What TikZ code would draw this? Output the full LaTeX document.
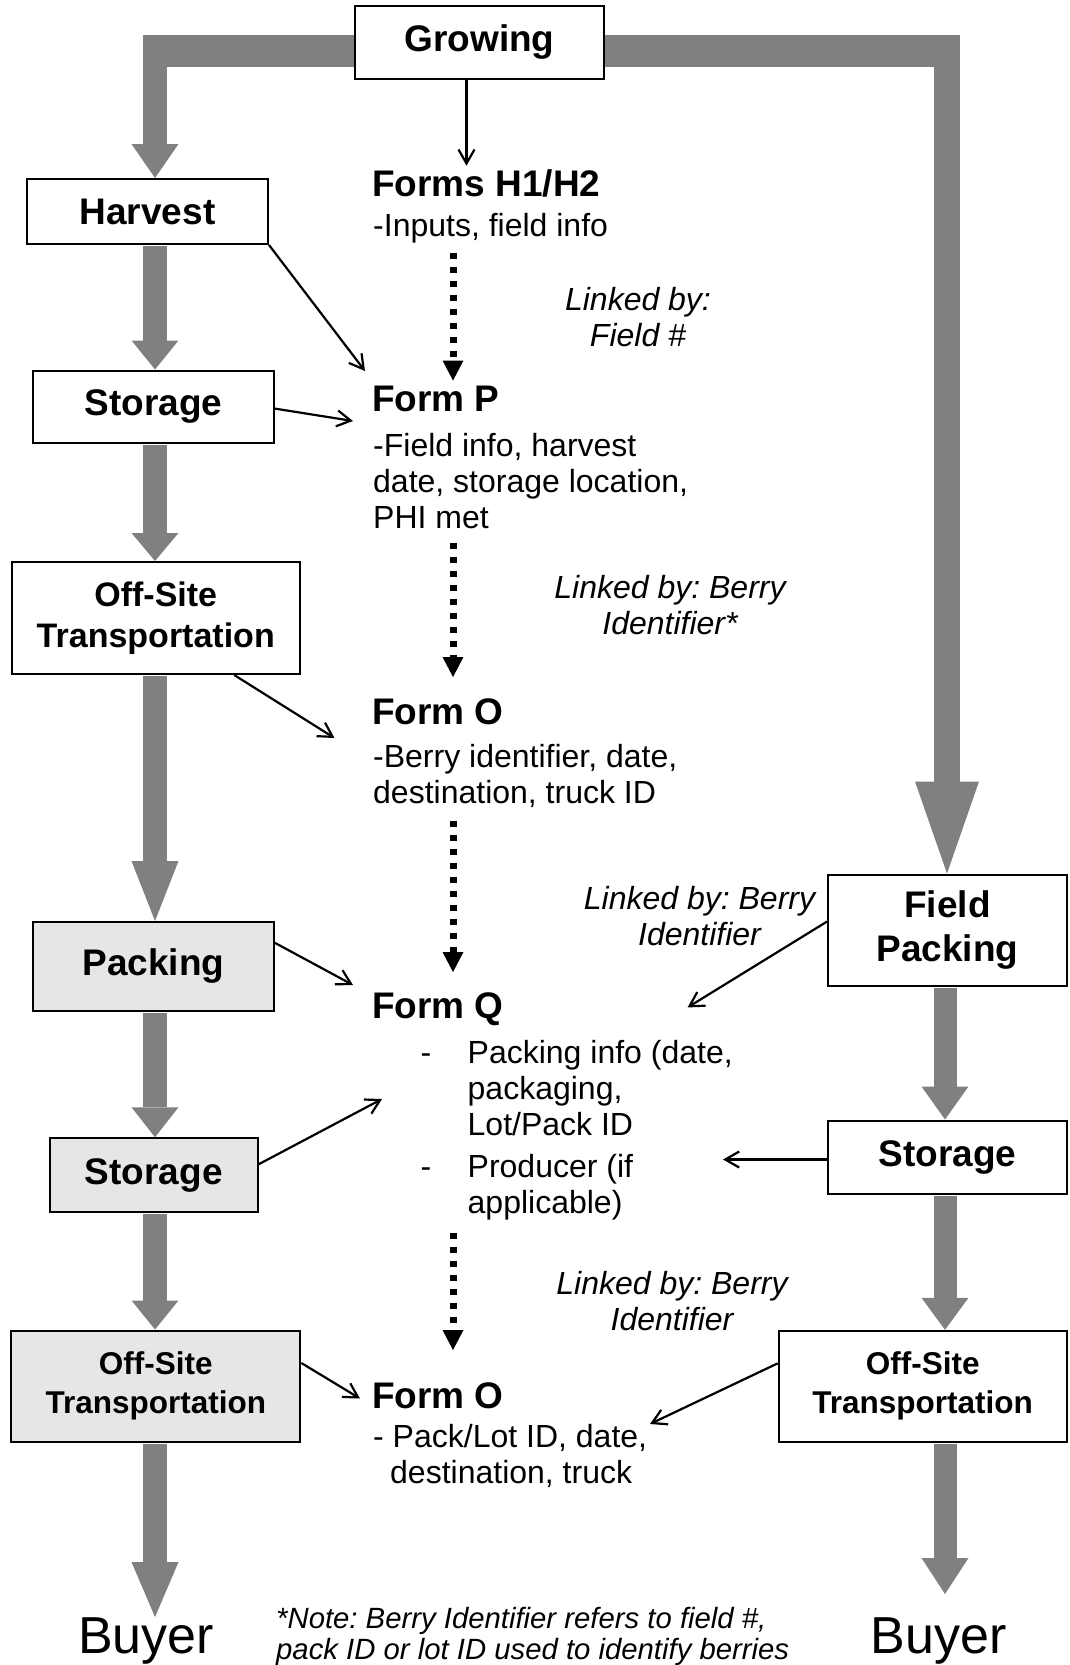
\documentclass[tikz,border=0pt]{standalone}
\usepackage{fontspec}
\setmainfont{Liberation Sans}
\usetikzlibrary{arrows.meta}

\definecolor{flowgray}{RGB}{128,128,128}
\definecolor{boxgray}{RGB}{230,230,230}

\tikzset{
  procbox/.style={draw=black, line width=2pt, fill=white, inner sep=0pt, align=center,
    font=\fontsize{37}{44}\selectfont\bfseries},
  shadedbox/.style={procbox, fill=boxgray},
  formhead/.style={anchor=base west, inner sep=0pt, font=\fontsize{37}{42}\selectfont\bfseries},
  formbody/.style={anchor=base west, inner sep=0pt, align=left, font=\fontsize{32}{36}\selectfont},
  linklabel/.style={anchor=base, inner sep=0pt, align=center, font=\fontsize{32}{36}\selectfont\itshape},
  flowbar/.style={draw=flowgray, line width=32pt},
  bigflow/.style={draw=flowgray, line width=24pt, shorten <=1pt,
    -{Triangle[length=#1, width=47pt, line width=0pt]}},
  bigflow/.default=30pt,
  thinarrow/.style={line width=2.2pt, -{Straight Barb[length=14pt, width=16pt]}},
  linkarrow/.style={line width=7pt, dash pattern=on 6pt off 8pt,
    -{Triangle[length=20pt, width=21pt, line width=0pt]}},
}

\begin{document}
\frenchspacing
\begin{tikzpicture}[x=1pt, y=-1pt]
  \useasboundingbox (0,0) rectangle (1069,1665);

  % process boxes
  \node[procbox, minimum width=249pt, minimum height=73pt] (grow) at (479.5,42.5) {Growing};
  \node[procbox, minimum width=241pt, minimum height=65pt] (harv) at (147.5,211.5) {Harvest};
  \node[procbox, minimum width=241pt, minimum height=72pt] (stor1) at (153.5,406.5) {Storage};
  \node[procbox, minimum width=288pt, minimum height=112pt, font=\fontsize{34}{41.5}\selectfont\bfseries] (off1) at (155.75,618) {Off-Site\\Transportation};
  \node[shadedbox, minimum width=241pt, minimum height=89pt] (pack) at (153.5,966.5) {Packing};
  \node[shadedbox, minimum width=208pt, minimum height=74pt] (stor2) at (153.75,1175.25) {Storage};
  \node[shadedbox, minimum width=289pt, minimum height=111pt, font=\fontsize{31.5}{39}\selectfont\bfseries] (off2) at (155.8,1386) {Off-Site\\Transportation};
  \node[procbox, minimum width=239pt, minimum height=111pt] (fpack) at (947.5,930) {Field\\Packing};
  \node[procbox, minimum width=239pt, minimum height=73pt] (stor3) at (947.5,1157) {Storage};
  \node[procbox, minimum width=288pt, minimum height=111pt, font=\fontsize{31.5}{39}\selectfont\bfseries] (off3) at (922.7,1386.3) {Off-Site\\Transportation};
  \node[anchor=base, inner sep=0pt, font=\fontsize{52}{60}\selectfont] (buyL) at (146,1653) {Buyer};
  \node[anchor=base, inner sep=0pt, font=\fontsize{52}{60}\selectfont] (buyR) at (938.5,1653) {Buyer};

  % record forms (multi-line texts sit on their last baseline)
  \node[formhead] (h12head) at (372,196) {Forms H1/H2};
  \node[formbody] (h12body) at (373,236) {-Inputs, field info};
  \node[formhead] (phead) at (372,411) {Form P};
  \node[formbody] (pbody) at (373,528) {-Field info, harvest\\date, storage location,\\PHI met};
  \node[formhead] (ohead) at (372,724) {Form O};
  \node[formbody] (obody) at (373,803) {-Berry identifier, date,\\destination, truck ID};
  \node[formhead] (qhead) at (372,1018.5) {Form Q};
  \node[formbody] (qbody) at (420.5,1213) {\makebox[47pt][l]{-}Packing info (date,\\
    \hspace*{47pt}packaging,\\
    \hspace*{47pt}Lot/Pack ID\\[6pt]
    \makebox[47pt][l]{-}Producer (if\\
    \hspace*{47pt}applicable)};
  \node[formhead] (o2head) at (372,1408.5) {Form O};
  \node[formbody] (o2body) at (373,1483) {- Pack/Lot ID, date,\\\hspace*{17pt}destination, truck};

  % link labels
  \node[linklabel] (link1) at (638,346) {Linked by:\\Field \#};
  \node[linklabel] (link2) at (670,634.5) {Linked by: Berry\\Identifier*};
  \node[linklabel] (link3) at (699.5,945) {Linked by: Berry\\Identifier};
  \node[linklabel] (link4) at (672,1330) {Linked by: Berry\\Identifier};
  \node[anchor=base west, inner sep=0pt, align=left, font=\fontsize{29.3}{31.5}\selectfont\itshape] (note) at (276,1659.5) {*Note: Berry Identifier refers to field \#,\\pack ID or lot ID used to identify berries};

  % gray product flow
  \coordinate (lbend) at (143,50.5);
  \coordinate (rbend) at (960,50.5);
  \coordinate (ltop) at (155,34.5);
  \coordinate (rtop) at (947,34.5);
  \coordinate (lcol) at (155,0);
  \coordinate (rcol) at (945,0);
  \coordinate (buyRtip) at (945,1594);
  \draw[flowbar] (grow.west |- lbend) -- (lbend);
  \draw[flowbar] (grow.east |- rbend) -- (rbend);
  \draw[bigflow=34pt] (ltop) -- (harv.north -| ltop);
  \draw[draw=flowgray, line width=26pt, -{Triangle[length=92pt, width=64pt, line width=0pt]}] (rtop) -- (fpack.north -| rtop);
  \draw[bigflow=29pt] (harv.south -| lcol) -- (stor1.north -| lcol);
  \draw[bigflow=28pt] (stor1.south -| lcol) -- (off1.north -| lcol);
  \draw[bigflow=60pt] (off1.south -| lcol) -- (pack.north -| lcol);
  \draw[bigflow=30pt] (pack.south -| lcol) -- (stor2.north -| lcol);
  \draw[bigflow=29pt] (stor2.south -| lcol) -- (off2.north -| lcol);
  \draw[bigflow=55pt] (off2.south -| lcol) -- (buyL.north -| lcol);
  \draw[bigflow=33pt, line width=23pt] (fpack.south -| rcol) -- (stor3.north -| rcol);
  \draw[bigflow=32pt, line width=23pt] (stor3.south -| rcol) -- (off3.north -| rcol);
  \draw[bigflow=36pt, line width=23pt] (off3.south -| rcol) -- (buyRtip);

  % record arrows
  \coordinate (h12in) at (466.5,165.7);
  \coordinate (pin1) at (365,371);
  \coordinate (pin2) at (353,421);
  \coordinate (oin1) at (334.5,738);
  \coordinate (qin1) at (353,985);
  \coordinate (qin2) at (382,1099);
  \coordinate (qin3) at (687.6,1007.4);
  \coordinate (qin4) at (723,1159.5);
  \coordinate (o2in1) at (360,1398.5);
  \coordinate (o2in2) at (650,1424);
  \draw[thinarrow] (grow.south -| h12in) -- (h12in);
  \draw[thinarrow] (harv.south east) -- (pin1);
  \draw[thinarrow] (stor1.-1.5) -- (pin2);
  \draw[thinarrow] (off1.-36) -- (oin1);
  \draw[thinarrow] (pack.11) -- (qin1);
  \draw[thinarrow] (stor2.6) -- (qin2);
  \draw[thinarrow] (fpack.176) -- (qin3);
  \draw[thinarrow] (stor3.west |- qin4) -- (qin4);
  \draw[thinarrow] (off2.9) -- (o2in1);
  \draw[thinarrow] (off3.171) -- (o2in2);

  % dotted links between forms
  \coordinate (d1s) at (453,253);    \coordinate (d1e) at (453,380.5);
  \coordinate (d2s) at (453,543);    \coordinate (d2e) at (453,677);
  \coordinate (d3s) at (453,820.7);  \coordinate (d3e) at (453,972);
  \coordinate (d4s) at (453,1233);   \coordinate (d4e) at (453,1350);
  \draw[linkarrow] (d1s) -- (d1e);
  \draw[linkarrow] (d2s) -- (d2e);
  \draw[linkarrow] (d3s) -- (d3e);
  \draw[linkarrow] (d4s) -- (d4e);
\end{tikzpicture}
\end{document}
